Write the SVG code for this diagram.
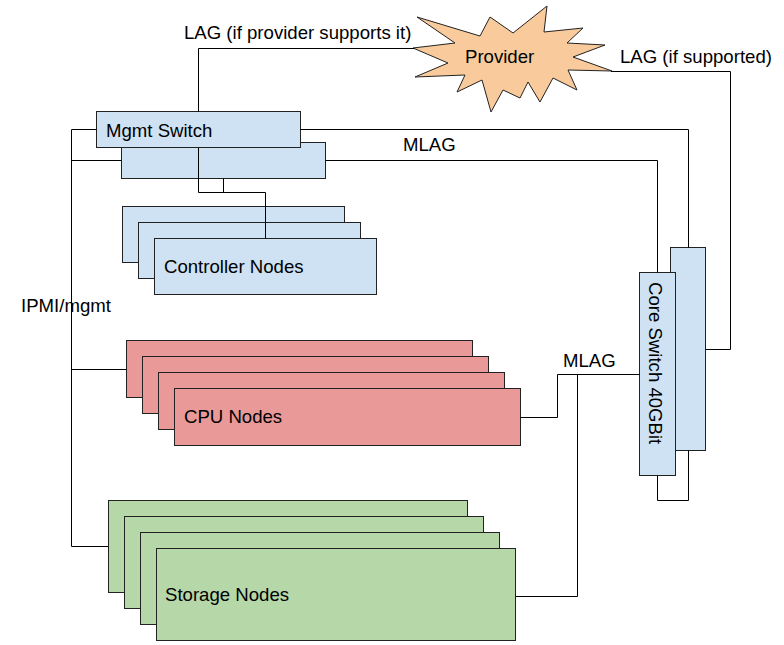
<svg xmlns="http://www.w3.org/2000/svg" width="784" height="645" viewBox="0 0 784 645">
<style>
text{font-family:"Liberation Sans",Arial,sans-serif;font-size:18.6px;fill:#000}
.b{fill:#cfe2f3;stroke:#222;stroke-width:1}
.r{fill:#ea9999;stroke:#222;stroke-width:1}
.g{fill:#b6d7a8;stroke:#222;stroke-width:1}
.o{fill:#f9cb9c;stroke:#222;stroke-width:1}
.c{fill:none;stroke:#000;stroke-width:1}
</style>
<rect width="784" height="645" fill="#fff"/>
<g id="mgmt-switch">
<rect class="b" x="121.5" y="142.5" width="204" height="36"/>
<rect class="b" x="96.5" y="111.5" width="204" height="36"/>
<text x="106" y="137">Mgmt Switch</text>
</g>
<g id="provider">
<polygon class="o" points="417,17 480,36 490,17 513,33 547,6 544,32 583,28 567,43 605,45 573,57 612,71 568,70 577,90 553,78 540,102 528,82 520,98 503,90 491,112 482,80 457,92 465,75 415,77 448,63 413,48 455,43"/>
<text x="465" y="63">Provider</text>
</g>
<g id="controller-nodes">
<rect class="b" x="122.5" y="206.5" width="222" height="56"/>
<rect class="b" x="138.5" y="222.5" width="222" height="56"/>
<rect class="b" x="154.5" y="238.5" width="222" height="56"/>
<text x="164" y="273">Controller Nodes</text>
</g>
<g id="cpu-nodes">
<rect class="r" x="126.5" y="340.5" width="346" height="57"/>
<rect class="r" x="142.5" y="356.5" width="346" height="57"/>
<rect class="r" x="158.5" y="372.5" width="346" height="57"/>
<rect class="r" x="174.5" y="388.5" width="346" height="57"/>
<text x="184" y="423">CPU Nodes</text>
</g>
<g id="storage-nodes">
<rect class="g" x="108.5" y="500.5" width="359" height="92"/>
<rect class="g" x="124.5" y="516.5" width="359" height="92"/>
<rect class="g" x="140.5" y="532.5" width="359" height="92"/>
<rect class="g" x="156.5" y="548.5" width="359" height="92"/>
<text x="165" y="601">Storage Nodes</text>
</g>
<g id="core-switch">
<rect class="b" x="670.5" y="247.5" width="35" height="203"/>
<rect class="b" x="639.5" y="272.5" width="36" height="203"/>
<text transform="translate(648.5,282) rotate(90)">Core Switch 40GBit</text>
</g>
<g id="connectors">
<path class="c" d="M71.5 129.5V546.5M71.5 129.5H96.5M71.5 160.5H121.5M71.5 369.5H126.5M71.5 546.5H108.5"/>
<path class="c" d="M198.5 111.5V48.5H414"/>
<path class="c" d="M198.5 147.5V192.5H265.5V238.5M223.5 178.5V192.5"/>
<path class="c" d="M300.5 129.5H688.5V247.5M325.5 160.5H657.5V272.5"/>
<path class="c" d="M611 71.5H730.5V349.5H705.5"/>
<path class="c" d="M657.5 475.5V500.5H688.5V450.5"/>
<path class="c" d="M639.5 374.5H557.5V417.5H520.5M577.5 374.5V596.5H515.5"/>
</g>
<g id="labels">
<text x="184" y="39">LAG (if provider supports it)</text>
<text x="620" y="63">LAG (if supported)</text>
<text x="403" y="151">MLAG</text>
<text x="563" y="367">MLAG</text>
<text x="21" y="312">IPMI/mgmt</text>
</g>
</svg>
